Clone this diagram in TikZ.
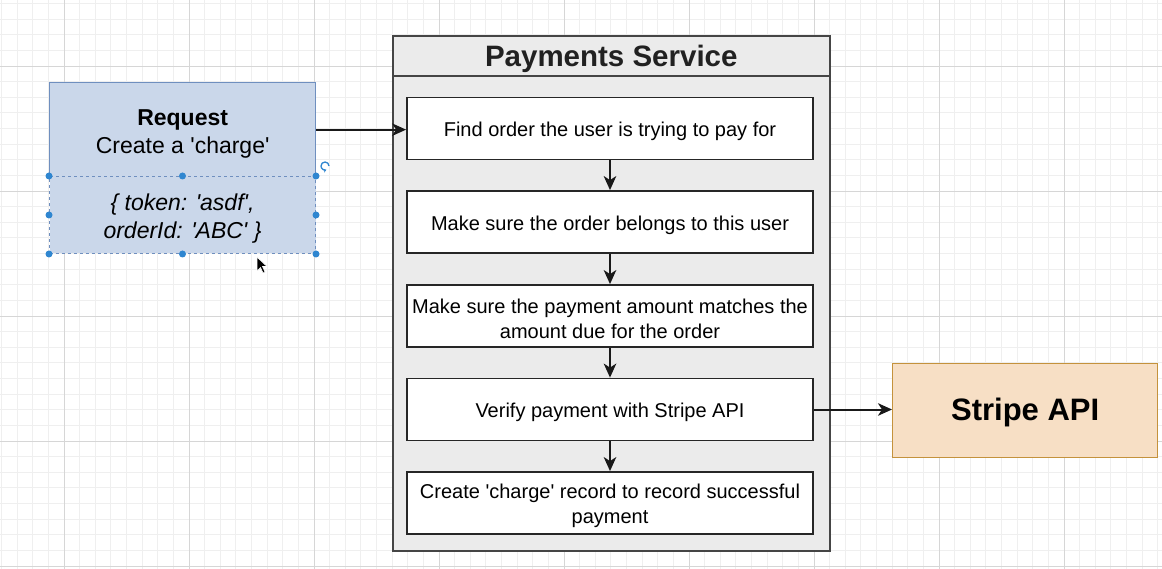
\documentclass[tikz,border=0pt]{standalone}
\usepackage{fontspec}
\setmainfont{Liberation Sans}
\usetikzlibrary{arrows.meta}
\definecolor{reqfill}{HTML}{CAD7EA}
\definecolor{reqline}{HTML}{6F8FBF}
\definecolor{stfill}{HTML}{F7DFC5}
\definecolor{stline}{HTML}{C4923C}
\definecolor{contfill}{HTML}{EBEBEB}
\definecolor{contline}{HTML}{454545}
\definecolor{minorg}{HTML}{EFEFEF}
\definecolor{majorg}{HTML}{D6D6D6}
\definecolor{handle}{HTML}{2F86D0}
\newcommand{\q}{\textquotesingle}
\begin{document}
\begin{tikzpicture}[x=1pt,y=-1pt,
  minorgrid/.style={draw=minorg,line width=0.9pt},
  majorgrid/.style={draw=majorg,line width=0.9pt},
  stepbox/.style={draw=black!85,line width=1.8pt,fill=white,minimum width=406pt,minimum height=62pt,inner sep=0pt},
  steptext/.style={align=center,inner sep=0pt,font=\fontsize{20}{24.5}\selectfont},
  arr/.style={draw=black!90,line width=2pt,-{Stealth[length=14pt,width=12.5pt,inset=4pt]}},
  hdl/.style={fill=handle,draw=none,circle,minimum size=7pt,inner sep=0pt}
]
\useasboundingbox (0,0) rectangle (1162,569);
\fill[white] (0,0) rectangle (1162,569);
\begin{scope}
\clip (0,0) rectangle (1162,569);
\foreach \i in {-4,...,71} \draw[minorgrid] ({64+\i*15.625},0) -- ({64+\i*15.625},569);
\foreach \j in {-4,...,33} \draw[minorgrid] (0,{66+\j*15.625}) -- (1162,{66+\j*15.625});
\foreach \k in {0,...,8} \draw[majorgrid] ({64+\k*125},0) -- ({64+\k*125},569);
\foreach \k in {0,...,4} \draw[majorgrid] (0,{66+\k*125}) -- (1162,{66+\k*125});
\end{scope}

% Payments Service container
\node[draw=contline,line width=1.6pt,fill=contfill,minimum width=437pt,minimum height=515pt,anchor=north west,inner sep=0pt] (cont) at (392,35) {};
\node[draw=contline,line width=1.6pt,fill=contfill,minimum width=437pt,minimum height=40pt,anchor=north west,inner sep=0pt] (head) at (392,35) {};
\node[font=\fontsize{29.5}{34}\selectfont\bfseries,text=black!87,inner sep=0pt] (headt) at ([yshift=-3.5pt]head.center) {Payments Service};

% steps
\node[stepbox] (s1) at (610,128.5) {};
\node[stepbox] (s2) at (610,222) {};
\node[stepbox] (s3) at (610,316) {};
\node[stepbox] (s4) at (610,409.5) {};
\node[stepbox] (s5) at (610,503) {};
\node[steptext] (t1) at ([yshift=-3pt]s1.center) {Find order the user is trying to pay for};
\node[steptext] (t2) at ([yshift=-3pt]s2.center) {Make sure the order belongs to this user};
\node[steptext] (t3) at ([yshift=-3pt]s3.center) {Make sure the payment amount matches the\\amount due for the order};
\node[steptext] (t4) at ([yshift=-3pt]s4.center) {Verify payment with Stripe API};
\node[steptext] (t5) at ([yshift=-3pt]s5.center) {Create \q charge\q{} record to record successful\\payment};

\draw[arr] (s1.south) -- (s2.north);
\draw[arr] (s2.south) -- (s3.north);
\draw[arr] (s3.south) -- (s4.north);
\draw[arr] (s4.south) -- (s5.north);

% Request
\node[draw=reqline,line width=1.3pt,fill=reqfill,minimum width=266pt,minimum height=94pt,anchor=north west,inner sep=0pt] (req) at (49,82) {};
\node[draw=reqline,line width=1pt,dashed,fill=reqfill,minimum width=266pt,minimum height=77pt,anchor=north west,inner sep=0pt] (body) at (49,176) {};
\node[align=center,inner sep=0pt,font=\fontsize{23}{28}\selectfont] (reqt) at ([yshift=-4pt]req.center) {\textbf{Request}\\Create a \q charge\q};
\node[align=center,inner sep=0pt,font=\fontsize{23}{28.5}\selectfont\itshape] (bodyt) at ([yshift=-3.5pt]body.center) {\{ token: \q asdf\q,\\orderId: \q ABC\q{} \}};

\draw[arr] (req.east) -- (req.east -| s1.west);

% Stripe API
\node[draw=stline,line width=1.3pt,fill=stfill,minimum width=265pt,minimum height=94pt,anchor=north west,inner sep=0pt] (stripe) at (892,363) {};
\node[font=\fontsize{31}{36}\selectfont\bfseries,inner sep=0pt] (stript) at ([yshift=-2pt]stripe.center) {Stripe API};
\draw[arr] (s4.east) -- (s4.east -| stripe.west);

% selection handles
\node[hdl] (h1) at (body.north west) {};
\node[hdl] (h2) at (body.north) {};
\node[hdl] (h3) at (body.north east) {};
\node[hdl] (h4) at (body.west) {};
\node[hdl] (h5) at (body.east) {};
\node[hdl] (h6) at (body.south west) {};
\node[hdl] (h7) at (body.south) {};
\node[hdl] (h8) at (body.south east) {};
\coordinate (rot) at (325,166);
\draw[handle,line width=1.3pt,-{Stealth[length=3pt,width=4pt]}] ([xshift=4pt]rot) arc[start angle=0,end angle=290,radius=4pt];

% cursor
\coordinate (cur) at (257,257);
\filldraw[fill=black,draw=white,line width=0.6pt] (cur) -- ++(0,14) -- ++(3.5,-3.5) -- ++(2.5,5.5) -- ++(2,-1) -- ++(-2.5,-5.5) -- ++(4.5,0) -- cycle;
\end{tikzpicture}
\end{document}
